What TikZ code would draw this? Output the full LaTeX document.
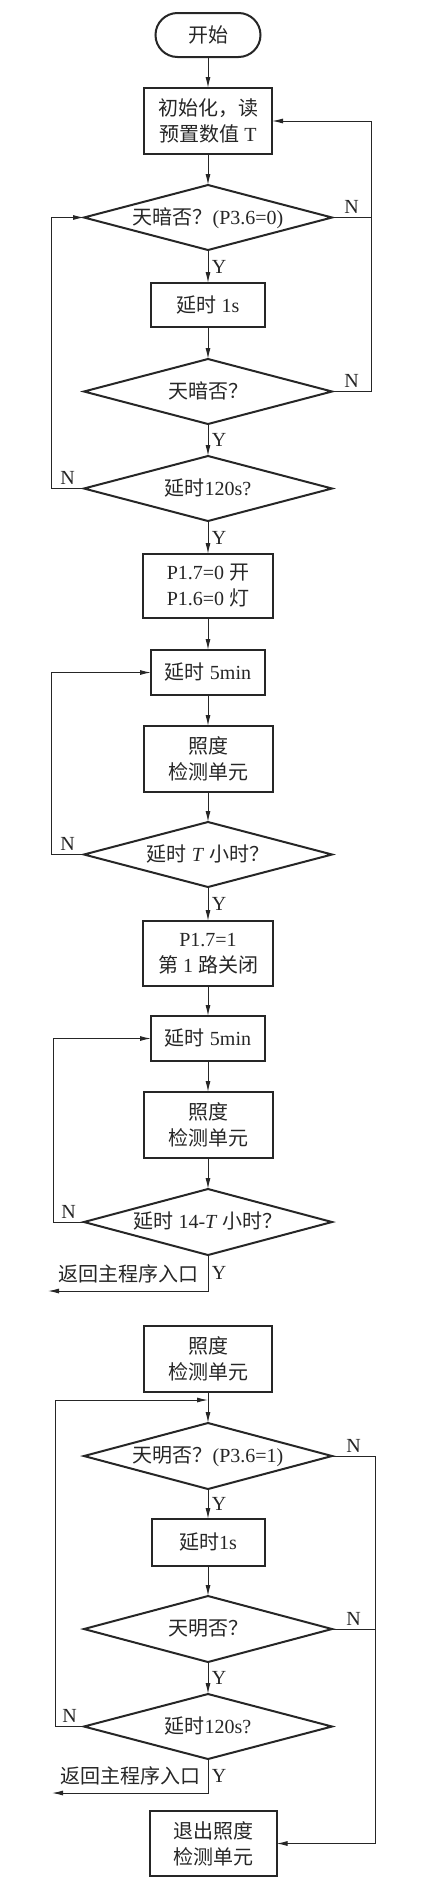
\documentclass[tikz,border=0pt]{standalone}
\usepackage{fontspec}
\setmainfont{Liberation Serif}
\newfontfamily\cjk{Noto Sans CJK SC}
\newcommand{\zh}[1]{{\cjk #1}}
\usetikzlibrary{positioning}
\usetikzlibrary{arrows.meta}
\usetikzlibrary{shapes.geometric}

\begin{document}
\begin{tikzpicture}[
        color=black!85,
        font=\fontsize{20}{26}\selectfont,
        startnode/.style={rectangle, rounded corners=22pt, draw, line width=2pt, minimum width=105pt, minimum height=44pt, outer sep=0pt},
        boxnode/.style={rectangle, draw, line width=2pt, minimum width=129pt, minimum height=65pt, align=center, outer sep=0pt},
        delaynode/.style={boxnode, minimum width=114pt, minimum height=45pt},
        decnode/.style={diamond, aspect=3.8, draw, line width=2pt, minimum width=248pt, minimum height=65pt, inner sep=0pt, outer sep=0pt, text height=13pt, text depth=0pt},
        flow/.style={-{Latex[length=11pt,width=5pt]}, line width=1pt},
        link/.style={line width=1pt},
        node distance=31pt,
        ]
        \useasboundingbox (0,0) rectangle (430pt,-1885pt);

        %Nodes
        \node[startnode] (start) at (208pt,-35pt) {\zh{开始}};
        \node[boxnode, minimum width=128pt, minimum height=66pt] (init) [below=of start] {\zh{初始化，读}\\\zh{预置数值} T};
        \node[decnode]   (d1)    [below=of init]    {\zh{天暗否？}(P3.6=0)};
        \node[delaynode, minimum height=44pt] (w1) [below=33pt of d1] {\zh{延时} 1s};
        \node[decnode]   (d2)    [below=32pt of w1] {\zh{天暗否？}};
        \node[decnode]   (d3)    [below=32pt of d2] {\zh{延时}120s?};
        \node[boxnode, minimum width=130pt, minimum height=64pt] (on) [below=33pt of d3] {P1.7=0 \zh{开}\\P1.6=0 \zh{灯}};
        \node[delaynode] (w2)    [below=32pt of on] {\zh{延时} 5min};
        \node[boxnode, minimum height=66pt] (lux1) [below=of w2] {\zh{照度}\\\zh{检测单元}};
        \node[decnode]   (d4)    [below=30pt of lux1] {\zh{延时} \textit{T} \zh{小时？}};
        \node[boxnode, minimum width=130pt] (off) [below=34pt of d4] {P1.7=1\\\zh{第} 1 \zh{路关闭}};
        \node[delaynode] (w3)    [below=30pt of off] {\zh{延时} 5min};
        \node[boxnode, minimum height=66pt] (lux2) [below=of w3] {\zh{照度}\\\zh{检测单元}};
        \node[decnode, minimum height=66pt] (d5) [below=of lux2] {\zh{延时} 14-\textit{T} \zh{小时？}};
        \coordinate[below left=36pt and 160pt of d5.south] (ret1);

        \node[boxnode, minimum width=128pt, minimum height=66pt] (lux3) [below=71pt of d5] {\zh{照度}\\\zh{检测单元}};
        \coordinate[below=8pt of lux3] (join);
        \node[decnode, minimum height=66pt] (d6) [below=of lux3] {\zh{天明否？}(P3.6=1)};
        \node[delaynode, minimum width=113pt, minimum height=47pt] (w4) [below=30pt of d6] {\zh{延时}1s};
        \node[decnode, minimum height=66pt] (d7) [below=30pt of w4] {\zh{天明否？}};
        \node[decnode]   (d8)    [below=32pt of d7] {\zh{延时}120s?};
        \coordinate[below left=34pt and 156pt of d8.south] (ret2);
        \node[boxnode, minimum width=127pt] (quit) [below=52pt of d8, xshift=5pt] {\zh{退出照度}\\\zh{检测单元}};

        %Lines
        \path[flow] (start) edge (init)
                    (init)  edge (d1)
                    (d1)    edge node[right] {Y} (w1)
                    (w1)    edge (d2)
                    (d2)    edge node[right] {Y} (d3)
                    (d3)    edge node[right] {Y} (on)
                    (on)    edge (w2)
                    (w2)    edge (lux1)
                    (lux1)  edge (d4)
                    (d4)    edge node[right] {Y} (off)
                    (off)   edge (w3)
                    (w3)    edge (lux2)
                    (lux2)  edge (d5)
                    (lux3)  edge (d6)
                    (d6)    edge node[right] {Y} (w4)
                    (w4)    edge (d7)
                    (d7)    edge node[right] {Y} (d8);

        \draw[link] (d1.east) -- node[above] {N} ++(39pt,0);
        \draw[flow] (d2.east) -- node[above] {N} ++(39pt,0) |- (init.east);
        \draw[flow] (d3.west) -- node[above] {N} ++(-33pt,0) |- (d1.west);
        \draw[flow] (d4.west) -- node[above] {N} ++(-33pt,0) |- (w2.west);
        \draw[flow] (d5.west) -- node[above] {N} ++(-31pt,0) |- (w3.west);
        \draw[flow] (d5.south) -- node[right] {Y} (d5.south |- ret1)
                    -- node[above=4pt] {\zh{返回主程序入口}} (ret1);

        \draw[flow] (d8.west) -- node[above] {N} ++(-29pt,0) |- (join);
        \draw[flow] (d6.east) -- node[above] {N} ++(43pt,0) |- (quit.east);
        \draw[link] (d7.east) -- node[above] {N} ++(43pt,0);
        \draw[flow] (d8.south) -- node[right] {Y} (d8.south |- ret2)
                    -- node[above=4pt] {\zh{返回主程序入口}} (ret2);
\end{tikzpicture}
\end{document}
